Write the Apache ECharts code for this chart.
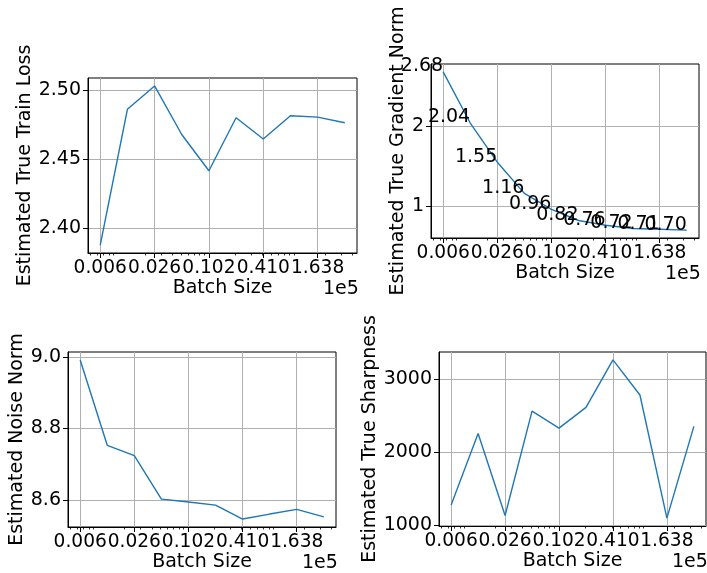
<!DOCTYPE html>
<html><head><meta charset="utf-8">
<script src="https://cdn.jsdelivr.net/npm/echarts@6/dist/echarts.min.js"></script>
<style>html,body{margin:0;padding:0;background:#fff}#c{width:707px;height:573px}</style>
</head><body><div id="c"></div>
<script>
// ---- data ----
const batchSizes = [640, 1280, 2560, 5120, 10240, 20480, 40960, 81920, 163840, 327680];
const trainLoss  = [2.3879, 2.4860, 2.5029, 2.4678, 2.4416, 2.4799, 2.4646, 2.4814, 2.4804, 2.4763];
const gradNorm   = [2.68, 2.04, 1.55, 1.16, 0.96, 0.82, 0.76, 0.72, 0.71, 0.70];
const noiseNorm  = [8.9925, 8.753, 8.724, 8.602, 8.594, 8.585, 8.546, 8.560, 8.573, 8.552];
const sharpness  = [1279, 2259, 1137, 2565, 2332, 2616, 3265, 2785, 1101, 2355];

const xTickValues = [640, 2560, 10240, 40960, 163840];
const xTickLabels = ['0.006', '0.026', '0.102', '0.410', '1.638'];
const xMinorTicks = [500, 600, 700, 800, 900, 2000, 3000, 4000, 5000, 6000, 7000, 8000, 9000,
  20000, 30000, 40000, 50000, 60000, 70000, 80000, 90000, 200000, 300000, 400000];
const xOffsetLabel = '1e5';
const xTitle = 'Batch Size';

const yTicksLoss = [2.40, 2.45, 2.50];
const yTicksGrad = [1, 2];
const yTicksNoise = [8.6, 8.8, 9.0];
const yTicksSharp = [1000, 2000, 3000];

const titles = ['Estimated True Train Loss', 'Estimated True Gradient Norm', 'Estimated Noise Norm', 'Estimated True Sharpness'];

// ---- layout ----
const FONT = 'DejaVu Sans';
const FS = 19;
const panels = [
  {left: 88, top: 78, width: 269, height: 175, ymin: 2.38215, ymax: 2.50865, ticks: yTicksLoss, fmt: v => v.toFixed(2), gap: 49, data: trainLoss},
  {left: 431, top: 64, width: 268, height: 174, ymin: 0.601, ymax: 2.779, ticks: yTicksGrad, fmt: v => String(Math.round(v)), gap: 22, data: gradNorm, annotate: true},
  {left: 68, top: 352, width: 268, height: 175, ymin: 8.5237, ymax: 9.0148, ticks: yTicksNoise, fmt: v => v.toFixed(1), gap: 39, data: noiseNorm},
  {left: 439, top: 352, width: 267, height: 174, ymin: 992.8, ymax: 3373.2, ticks: yTicksSharp, fmt: v => String(Math.round(v)), gap: 55, data: sharpness}
];
const XMIN = 468.5, XMAX = 447600;

const txt = {color: '#000', fontFamily: FONT, fontSize: FS};
const grids = [], xAxes = [], yAxes = [], series = [], graphics = [];

function xLabel(v) {
  let best = 0;
  for (let i = 1; i < xTickValues.length; i++) {
    if (Math.abs(Math.log(xTickValues[i] / v)) < Math.abs(Math.log(xTickValues[best] / v))) best = i;
  }
  return xTickLabels[best];
}

panels.forEach((p, i) => {
  grids.push({left: p.left, top: p.top, width: p.width, height: p.height, show: true,
    borderColor: '#000', borderWidth: 1, backgroundColor: 'transparent'});
  xAxes.push({
    type: 'log', logBase: 10, gridIndex: i, position: 'bottom', min: XMIN, max: XMAX,
    name: xTitle, nameLocation: 'middle', nameGap: 26, nameTextStyle: txt,
    axisLine: {show: true, lineStyle: {color: '#000', width: 1}},
    axisTick: {show: true, length: 5, interval: 0, customValues: xTickValues, lineStyle: {color: '#000', width: 1}},
    axisLabel: {show: true, interval: 0, customValues: xTickValues, formatter: v => xLabel(v), margin: 6, ...txt, fontSize: 18.6, hideOverlap: false, showMinLabel: true, showMaxLabel: true},
    splitLine: {show: true, interval: 0, lineStyle: {color: '#b0b0b0', width: 1}},
    minorTick: {show: false}
  });
  yAxes.push({
    type: 'value', gridIndex: i, position: 'left', min: p.ymin, max: p.ymax,
    name: titles[i], nameLocation: 'middle', nameGap: p.gap, nameTextStyle: txt,
    axisLine: {show: true, lineStyle: {color: '#000', width: 1}},
    axisTick: {show: true, length: 5, customValues: p.ticks, lineStyle: {color: '#000', width: 1}},
    axisLabel: {show: true, customValues: p.ticks, formatter: v => p.fmt(v), margin: 7, ...txt},
    splitLine: {show: true, lineStyle: {color: '#b0b0b0', width: 1}}
  });
  const s = {
    type: 'line', xAxisIndex: i, yAxisIndex: i,
    data: batchSizes.map((b, k) => [b, p.data[k]]),
    lineStyle: {color: '#1f77b4', width: 1.4},
    itemStyle: {color: '#1f77b4'},
    showSymbol: false, symbol: 'none', animation: false, silent: true, z: 3
  };
  if (p.annotate) {
    s.showSymbol = true; s.symbol = 'circle'; s.symbolSize = 0.1;
    s.label = {show: true, position: 'left', distance: 0, align: 'right', verticalAlign: 'bottom',
      offset: [0, 4], formatter: d => d.value[1].toFixed(2), ...txt};
  }
  series.push(s);
  graphics.push({type: 'text', left: p.left + p.width - 2 - 32, top: p.top + p.height + 27,
    style: {text: xOffsetLabel, fill: '#000', font: FS + 'px "' + FONT + '"', width: 32, align: 'right'}});
});
// minor log ticks
panels.forEach((p, i) => {
  xAxes.push({
    type: 'log', logBase: 10, gridIndex: i, position: 'bottom', min: XMIN, max: XMAX,
    axisLine: {show: false}, axisLabel: {show: false}, splitLine: {show: false},
    axisTick: {show: true, length: 2.5, interval: 0, customValues: xMinorTicks, lineStyle: {color: '#000', width: 0.8}}
  });
});

const chart = echarts.init(document.getElementById('c'), null, {renderer: 'canvas'});
chart.setOption({
  animation: false,
  backgroundColor: '#fff',
  textStyle: {fontFamily: FONT},
  grid: grids, xAxis: xAxes, yAxis: yAxes, series: series,
  graphic: graphics
});
</script></body></html>
